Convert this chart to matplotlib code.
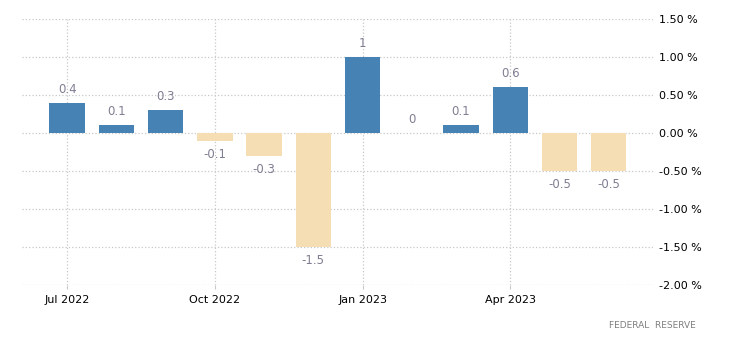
import matplotlib.pyplot as plt

# monthly change, Jul 2022 - Jun 2023
months = ['Jul 2022', 'Aug 2022', 'Sep 2022', 'Oct 2022', 'Nov 2022', 'Dec 2022',
          'Jan 2023', 'Feb 2023', 'Mar 2023', 'Apr 2023', 'May 2023', 'Jun 2023']
values = [0.4, 0.1, 0.3, -0.1, -0.3, -1.5, 1, 0, 0.1, 0.6, -0.5, -0.5]
labels = ['0.4', '0.1', '0.3', '-0.1', '-0.3', '-1.5', '1', '0', '0.1', '0.6', '-0.5', '-0.5']
yticks = [1.5, 1.0, 0.5, 0.0, -0.5, -1.0, -1.5, -2.0]
xtick_months = ['Jul 2022', 'Oct 2022', 'Jan 2023', 'Apr 2023']

fig = plt.figure(figsize=(7.3, 3.51), dpi=100)
ax = fig.add_axes([0.030, 0.188, 0.8645, 0.758])

x = list(range(len(values)))
colors = ['#4682b4' if v >= 0 else '#f5deb3' for v in values]
ax.bar(x, values, width=0.72, color=colors, zorder=3)

# value labels above / below bars
for xi, v, lab in zip(x, values, labels):
    if v >= 0:
        ax.annotate(lab, (xi, v), xytext=(0, 5), textcoords='offset points',
                    ha='center', va='bottom', fontsize=8.5, color='#7e7e92')
    else:
        ax.annotate(lab, (xi, v), xytext=(0, -5), textcoords='offset points',
                    ha='center', va='top', fontsize=8.5, color='#7e7e92')

ax.set_ylim(-2.0, 1.5)
ax.set_xlim(-0.92, 11.9)
ax.set_yticks(yticks)
ax.set_yticklabels(['%.2f %%' % t for t in yticks])
ax.yaxis.tick_right()
ax.set_xticks([months.index(m) for m in xtick_months])
ax.set_xticklabels(xtick_months)

ax.tick_params(axis='y', length=0, pad=4, labelsize=8)
ax.tick_params(axis='x', length=3, color='#c8c8c8', pad=4, labelsize=8)
ax.grid(True, linestyle=':', color='#c8c8c8', linewidth=0.9, zorder=0)
for s in ax.spines.values():
    s.set_visible(False)

fig.text(0.953, 0.072, 'FEDERAL  RESERVE', ha='right', va='center',
         fontsize=6.5, color='#7f7f7f')

fig.savefig('out.png', dpi=100)
